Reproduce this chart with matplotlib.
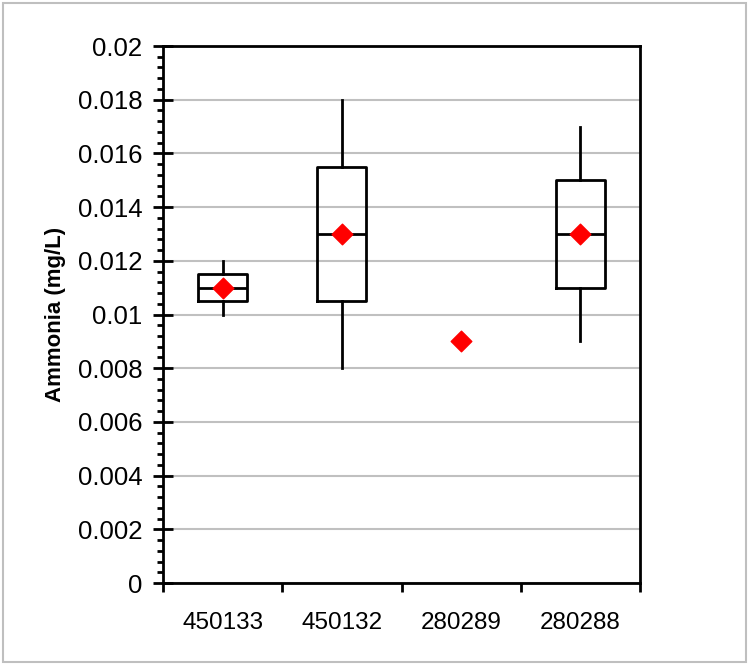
import matplotlib.pyplot as plt
from matplotlib.ticker import MultipleLocator, FixedLocator, NullFormatter
from matplotlib.patches import Rectangle

plt.rcParams['font.family'] = ['Liberation Sans', 'DejaVu Sans']

sites = ["450133", "450132", "280289", "280288"]
q1 = [0.0105, 0.0105, None, 0.011]
median = [0.011, 0.013, None, 0.013]
q3 = [0.0115, 0.0155, None, 0.015]
whislo = [0.010, 0.008, None, 0.009]
whishi = [0.012, 0.018, None, 0.017]
means = [0.011, 0.013, 0.009, 0.013]
ytick_vals = [0, 0.002, 0.004, 0.006, 0.008, 0.01, 0.012, 0.014, 0.016, 0.018, 0.02]
ytick_labels = ["0", "0.002", "0.004", "0.006", "0.008", "0.01", "0.012",
                "0.014", "0.016", "0.018", "0.02"]

fig = plt.figure(figsize=(7.49, 6.65), dpi=100)
fig.patches.append(Rectangle((0.004, 0.004), 0.992, 0.992, transform=fig.transFigure,
                             fill=False, edgecolor="#bfbfbf", linewidth=1.5))
ax = fig.add_axes([0.2176, 0.1233, 0.6369, 0.8075])

stats = []
pos = []
for i, s in enumerate(sites):
    if q1[i] is None:
        continue
    stats.append(dict(med=median[i], q1=q1[i], q3=q3[i],
                      whislo=whislo[i], whishi=whishi[i], label=s))
    pos.append(i + 1)

line = dict(color="black", linewidth=2)
ax.bxp(stats, positions=pos, widths=0.41, showfliers=False, showcaps=False,
       boxprops=line, medianprops=line, whiskerprops=line, manage_ticks=False)

ax.scatter(range(1, len(sites) + 1), means, marker="D", s=110, color="red",
           edgecolors="red", zorder=5)

ax.set_xlim(0.5, len(sites) + 0.5)
ax.set_ylim(0, 0.02)
ax.set_yticks(ytick_vals)
ax.set_yticklabels(ytick_labels)
ax.yaxis.set_minor_locator(MultipleLocator(0.0004))
ax.yaxis.grid(True, which="major", color="#c0c0c0", linewidth=1.5)
ax.set_axisbelow(True)

ax.xaxis.set_major_locator(FixedLocator([0.5 + k for k in range(len(sites) + 1)]))
ax.xaxis.set_major_formatter(NullFormatter())
ax.xaxis.set_minor_locator(FixedLocator(range(1, len(sites) + 1)))
ax.set_xticklabels(sites, minor=True, fontsize=17.5)
ax.tick_params(axis="x", which="minor", length=0, pad=21)
ax.tick_params(axis="x", which="major", direction="out", length=6.5, width=2)
ax.tick_params(axis="y", which="major", direction="inout", length=14, width=2,
               labelsize=18.5, pad=8)
ax.tick_params(axis="y", which="minor", direction="out", length=4.5, width=2)

for sp in ax.spines.values():
    sp.set_linewidth(2)

ax.set_ylabel("Ammonia (mg/L)", fontsize=16, fontweight="bold", labelpad=8)

fig.savefig("out.png", dpi=100)
